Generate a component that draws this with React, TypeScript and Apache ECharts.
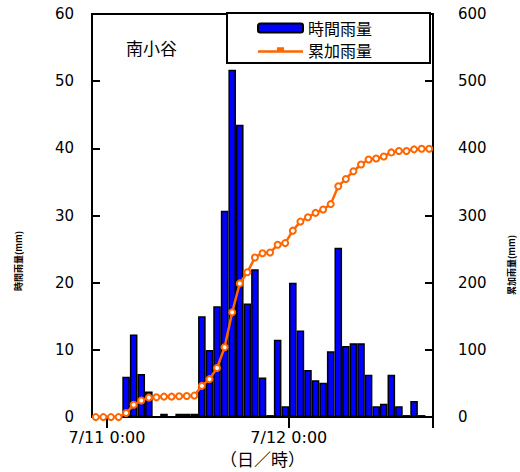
import React, { useEffect, useRef } from "react";
import * as echarts from "echarts";

// Hour slots from 7/10 22:00 to 7/12 18:00 (45 hourly slots)
const categories: string[] = Array.from({ length: 45 }, (_, i) => {
  const t = i - 2;
  const day = t < 0 ? 10 : t < 24 ? 11 : 12;
  const h = ((t % 24) + 24) % 24;
  return `7/${day} ${h}:00`;
});

const hourlyRain: number[] = [
  0, 0, 0, 0, 6, 12.3, 6.4, 3.8, 0, 0.5,
  0, 0.5, 0.5, 0.5, 15, 10, 16.5, 30.7, 51.7, 43.5,
  16.9, 22, 5.9, 0.3, 11.5, 1.6, 20, 12.9, 7, 5.5,
  5.1, 9.8, 25.2, 10.6, 11, 11, 6.3, 1.6, 2, 6.3,
  1.6, 0.3, 2.4, 0.3, 0,
];

const cumulativeRain: number[] = [
  0, 0, 0, 0, 6, 18.3, 24.7, 29, 29.5, 30.5,
  30.5, 31, 31.5, 32, 46.5, 56.5, 73, 104, 156, 199,
  215.5, 237.5, 244, 245, 256.5, 259, 277.5, 291, 297.5, 304,
  309, 317, 343.5, 354.5, 366, 376, 383.5, 385, 388, 394,
  396, 396, 398.5, 399.5, 399.5,
];

const leftTicks = { min: 0, max: 60, interval: 10 };
const rightTicks = { min: 0, max: 600, interval: 100 };
const tickIndexes = [2, 26];

const JP = '"Noto Sans CJK JP", "Noto Sans", sans-serif';
const NUM = '"DejaVu Sans", sans-serif';

export default function App() {
  const ref = useRef<HTMLDivElement>(null);
  useEffect(() => {
    if (!ref.current) return;
    const chart = echarts.init(ref.current, null, { renderer: "svg" });
    chart.setOption({
      animation: false,
      backgroundColor: "#fff",
      title: {
        text: "南小谷",
        left: 121,
        top: 34,
        textStyle: { fontFamily: JP, fontSize: 17, fontWeight: "normal", color: "#000" },
      },
      legend: {
        orient: "vertical",
        left: 227,
        top: 13,
        padding: [7, 58, 5, 30],
        itemGap: 6,
        itemWidth: 45,
        itemHeight: 9,
        backgroundColor: "#fff",
        borderColor: "#000",
        borderWidth: 2,
        borderRadius: 0,
        textStyle: { fontFamily: JP, fontSize: 16, lineHeight: 14, color: "#000" },
        data: [
          { name: "時間雨量" },
          {
            name: "累加雨量",
            icon: "path://M0,4 L19,4 L19,1 L26,1 L26,4 L45,4 L45,6.5 L0,6.5 Z",
            itemStyle: { color: "#FF6600", borderWidth: 0 },
          },
        ],
      },
      grid: {
        left: 92,
        right: 87,
        top: 14,
        bottom: 51,
        show: true,
        borderColor: "#000",
        borderWidth: 2,
        backgroundColor: "transparent",
      },
      xAxis: {
        type: "category",
        data: categories,
        boundaryGap: true,
        name: "（日／時）",
        nameLocation: "middle",
        nameGap: 32,
        nameTextStyle: { fontFamily: JP, fontSize: 17, color: "#000" },
        axisLine: { lineStyle: { color: "#000", width: 2 } },
        axisTick: {
          show: true,
          inside: false,
          length: 11,
          lineStyle: { color: "#000", width: 2 },
          interval: (index: number) => tickIndexes.includes(index),
        },
        axisLabel: {
          interval: (index: number) => tickIndexes.includes(index),
          margin: 12,
          fontFamily: NUM,
          fontSize: 16,
          color: "#000",
          padding: [0, 8, 0, 0],
        },
      },
      yAxis: [
        {
          type: "value",
          ...leftTicks,
          position: "left",
          axisLine: { show: true, lineStyle: { color: "#000", width: 2 } },
          axisTick: { show: true, inside: true, length: 8, lineStyle: { color: "#000", width: 2 } },
          axisLabel: { margin: 18, fontFamily: NUM, fontSize: 15, color: "#000" },
          splitLine: { show: false },
        },
        {
          type: "value",
          ...rightTicks,
          position: "right",
          axisLine: { show: true, lineStyle: { color: "#000", width: 2 } },
          axisTick: { show: true, inside: true, length: 8, lineStyle: { color: "#000", width: 2 } },
          axisLabel: { margin: 25, fontFamily: NUM, fontSize: 15, color: "#000" },
          splitLine: { show: false },
        },
      ],
      graphic: [
        {
          type: "text",
          x: 18,
          y: 261,
          rotation: Math.PI / 2,
          style: {
            text: "時間雨量(mm)",
            font: 'bold 9px "Noto Sans CJK JP"',
            fill: "#000",
            align: "center",
            verticalAlign: "middle",
          },
        },
        {
          type: "text",
          x: 511,
          y: 265,
          rotation: Math.PI / 2,
          style: {
            text: "累加雨量(mm)",
            font: 'bold 9px "Noto Sans CJK JP"',
            fill: "#000",
            align: "center",
            verticalAlign: "middle",
          },
        },
      ],
      series: [
        {
          name: "時間雨量",
          type: "bar",
          yAxisIndex: 0,
          data: hourlyRain,
          barWidth: "100%",
          barCategoryGap: "0%",
          itemStyle: { color: "#0000FF", borderColor: "#000", borderWidth: 1.5 },
        },
        {
          name: "累加雨量",
          type: "line",
          yAxisIndex: 1,
          data: cumulativeRain,
          symbol: "emptyCircle",
          symbolSize: 6,
          showSymbol: true,
          showAllSymbol: true,
          lineStyle: { color: "#FF6600", width: 2.5 },
          itemStyle: { color: "#FF6600", borderColor: "#FF6600", borderWidth: 2 },
        },
      ],
    });
    return () => chart.dispose();
  }, []);
  return (
    <div
      ref={ref}
      style={{ position: "fixed", left: 0, top: 0, width: 520, height: 472 }}
    />
  );
}
